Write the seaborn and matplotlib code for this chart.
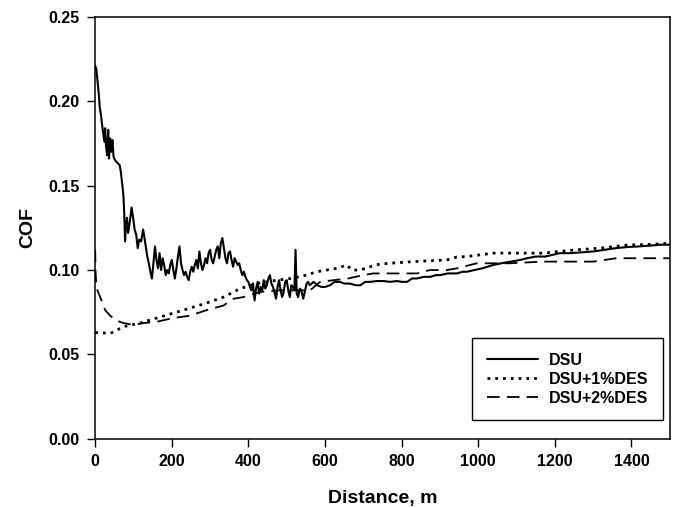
import matplotlib
matplotlib.use("Agg")
import matplotlib.pyplot as plt
import seaborn as sns
import pandas as pd

# ---- data ----
dsu_x = [0, 3, 6, 9, 12, 15, 18, 21, 24, 26, 28, 31, 34, 36, 39, 42, 45, 48, 52, 56,
         60, 64, 67, 70, 72, 74, 76, 78, 80, 83, 86, 90, 95, 99, 103, 107, 111, 115, 120, 125,
         128, 132, 136, 140, 144, 148, 152, 156, 160, 164, 168, 172, 176, 180, 184, 188, 192, 196, 200, 204,
         208, 212, 216, 220, 224, 228, 232, 236, 240, 244, 248, 252, 256, 260, 264, 268, 272, 276, 280, 284,
         288, 292, 296, 300, 304, 308, 312, 316, 320, 324, 328, 332, 336, 340, 344, 348, 352, 356, 360, 364,
         368, 372, 376, 380, 384, 388, 392, 396, 400, 404, 408, 412, 416, 420, 424, 428, 432, 436, 440, 444,
         448, 452, 456, 460, 464, 468, 472, 476, 480, 484, 488, 492, 496, 500, 504, 508, 512, 516, 520, 523,
         526, 530, 534, 538, 543, 548, 552, 556, 560, 570, 580, 590, 600, 613, 625, 639, 650, 665, 680, 692,
         705, 718, 735, 752, 770, 788, 800, 814, 827, 840, 858, 875, 890, 901, 920, 944, 960, 970, 990, 1010,
         1039, 1060, 1085, 1110, 1127, 1150, 1175, 1213, 1240, 1270, 1300, 1330, 1360, 1388, 1420, 1450, 1474, 1500]
dsu_y = [0.221, 0.219, 0.212, 0.205, 0.196, 0.192, 0.186, 0.181, 0.176, 0.184, 0.174, 0.168, 0.183, 0.166, 0.178, 0.170, 0.177, 0.167, 0.165, 0.164,
         0.163, 0.162, 0.158, 0.152, 0.148, 0.143, 0.132, 0.117, 0.125, 0.131, 0.122, 0.128, 0.137, 0.131, 0.124, 0.121, 0.113, 0.118, 0.117, 0.124,
         0.120, 0.114, 0.108, 0.104, 0.099, 0.095, 0.104, 0.114, 0.106, 0.101, 0.110, 0.100, 0.107, 0.103, 0.097, 0.100, 0.098, 0.103, 0.106, 0.100,
         0.095, 0.101, 0.108, 0.114, 0.104, 0.100, 0.097, 0.099, 0.096, 0.094, 0.099, 0.102, 0.099, 0.103, 0.106, 0.101, 0.111, 0.104, 0.100, 0.103,
         0.107, 0.104, 0.110, 0.112, 0.106, 0.104, 0.108, 0.112, 0.114, 0.107, 0.116, 0.119, 0.113, 0.107, 0.104, 0.110, 0.111, 0.106, 0.102, 0.107,
         0.105, 0.103, 0.104, 0.100, 0.097, 0.099, 0.096, 0.094, 0.093, 0.090, 0.088, 0.092, 0.082, 0.089, 0.093, 0.086, 0.090, 0.088, 0.094, 0.089,
         0.091, 0.095, 0.097, 0.092, 0.090, 0.087, 0.083, 0.090, 0.094, 0.088, 0.084, 0.087, 0.093, 0.094, 0.088, 0.084, 0.091, 0.090, 0.088, 0.112,
         0.086, 0.084, 0.089, 0.088, 0.083, 0.088, 0.092, 0.093, 0.091, 0.093, 0.091, 0.090, 0.090, 0.091, 0.093, 0.093, 0.092, 0.092, 0.091, 0.091,
         0.093, 0.093, 0.0935, 0.0935, 0.093, 0.0935, 0.093, 0.093, 0.095, 0.095, 0.096, 0.096, 0.097, 0.097, 0.098, 0.098, 0.099, 0.099, 0.100, 0.101,
         0.103, 0.104, 0.105, 0.106, 0.107, 0.108, 0.108, 0.110, 0.110, 0.1105, 0.111, 0.112, 0.113, 0.1136, 0.114, 0.1145, 0.115, 0.115]

des1_x = [0, 40, 74, 117, 161, 204, 248, 291, 335, 378, 422, 474, 510, 552, 578, 604, 630, 657, 670, 692,
          718, 744, 787, 830, 874, 918, 944, 970, 1039, 1100, 1169, 1210, 1257, 1320, 1388, 1430, 1474, 1500]
des1_y = [0.063, 0.0625, 0.0665, 0.0686, 0.0716, 0.0745, 0.0775, 0.0805, 0.084, 0.089, 0.092, 0.094, 0.095, 0.097, 0.099, 0.100, 0.101, 0.103, 0.100, 0.100,
          0.102, 0.1036, 0.1043, 0.105, 0.1055, 0.106, 0.1077, 0.108, 0.110, 0.110, 0.110, 0.111, 0.112, 0.113, 0.1148, 0.115, 0.1155, 0.116]

des2_x = [0, 1, 4, 13, 26, 39, 56, 74, 100, 126, 161, 204, 248, 291, 335, 361, 387, 430, 480, 530,
          561, 587, 622, 660, 700, 726, 796, 840, 874, 918, 944, 996, 1083, 1169, 1300, 1360, 1500]
des2_y = [0.112, 0.098, 0.089, 0.084, 0.0763, 0.073, 0.070, 0.0686, 0.0675, 0.0686, 0.0694, 0.0716, 0.073, 0.0763, 0.079, 0.083, 0.084, 0.087, 0.088, 0.088,
          0.088, 0.093, 0.094, 0.095, 0.097, 0.098, 0.098, 0.098, 0.100, 0.100, 0.101, 0.104, 0.104, 0.105, 0.105, 0.107, 0.107]

series_names = ["DSU", "DSU+1%DES", "DSU+2%DES"]
x_ticks = [0, 200, 400, 600, 800, 1000, 1200, 1400]
y_ticks = [0.00, 0.05, 0.10, 0.15, 0.20, 0.25]

sns.set_style("white")
plt.rcParams["font.family"] = ["Liberation Sans", "DejaVu Sans"]
plt.rcParams["font.weight"] = "bold"
plt.rcParams["text.color"] = "black"
plt.rcParams["axes.labelcolor"] = "black"
plt.rcParams["xtick.color"] = "black"
plt.rcParams["ytick.color"] = "black"

df = pd.concat([
    pd.DataFrame({"x": dsu_x, "y": dsu_y, "s": series_names[0]}),
    pd.DataFrame({"x": des1_x, "y": des1_y, "s": series_names[1]}),
    pd.DataFrame({"x": des2_x, "y": des2_y, "s": series_names[2]}),
], ignore_index=True)

fig = plt.figure(figsize=(6.8, 5.08), dpi=100)
ax = fig.add_axes([0.14, 0.136, 0.845, 0.831])

styles = {
    series_names[0]: dict(linestyle="-", linewidth=1.5),
    series_names[1]: dict(linestyle=(0, (1.0, 1.8)), linewidth=2.0),
    series_names[2]: dict(linestyle=(0, (7, 4)), linewidth=1.3),
}
for name in series_names:
    sub = df[df["s"] == name]
    sns.lineplot(data=sub, x="x", y="y", ax=ax, color="black", label=name,
                 sort=False, estimator=None, **styles[name])

ax.set_xlim(0, 1500)
ax.set_ylim(0, 0.25)
ax.set_xticks(x_ticks)
ax.set_yticks(y_ticks)
ax.set_xticklabels([str(t) for t in x_ticks], fontsize=11.5, fontweight="bold", color="black")
ax.set_yticklabels([f"{t:.2f}" for t in y_ticks], fontsize=11.5, fontweight="bold", color="black")
ax.tick_params(axis="both", direction="out", length=6, width=1, color="black",
               bottom=True, left=True, top=False, right=False, pad=5)
ax.set_xlabel("Distance, m", fontsize=14, fontweight="bold", labelpad=15, color="black")
ax.set_ylabel("COF", fontsize=14, fontweight="bold", labelpad=9, color="black")
for sp in ax.spines.values():
    sp.set_visible(True)
    sp.set_color("black")
    sp.set_linewidth(1.1)

leg = ax.legend(loc="lower right", bbox_to_anchor=(0.988, 0.045), borderaxespad=0,
                frameon=True, fancybox=False, framealpha=1, edgecolor="black",
                handlelength=3.2, handletextpad=0.7, borderpad=0.9, labelspacing=0.25,
                prop={"size": 11.5, "weight": "bold"})
leg.get_frame().set_linewidth(1.0)
for t in leg.get_texts():
    t.set_color("black")

fig.savefig("out.png", dpi=100)
